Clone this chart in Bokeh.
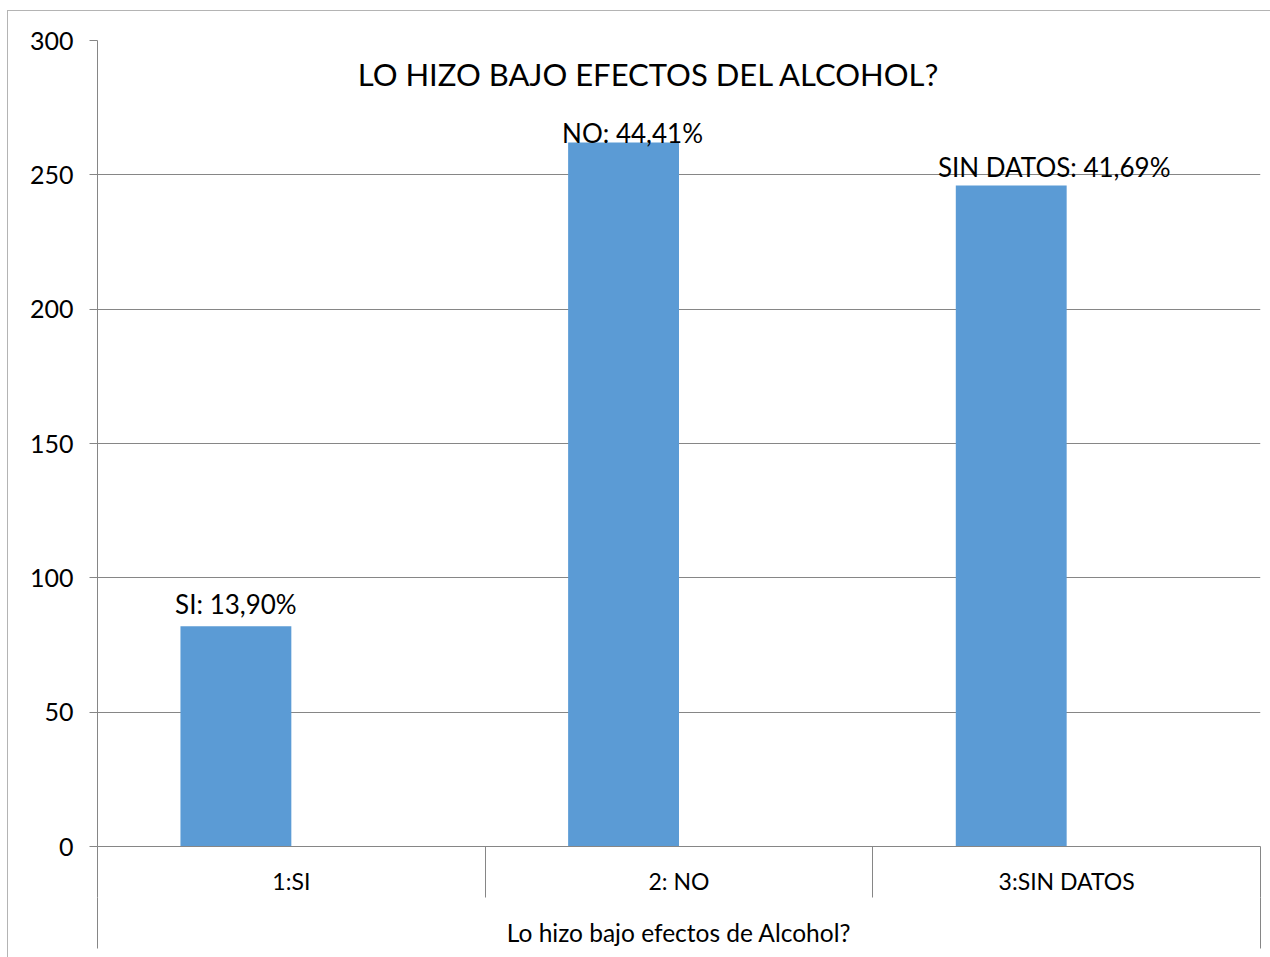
from bokeh.plotting import figure
from bokeh.models import (ColumnDataSource, FixedTicker, LinearAxis, Label, LabelSet,
                          Range1d, Grid)
from bokeh.core.properties import value
from bokeh.transform import dodge
from bokeh.embed import file_html
from bokeh.resources import INLINE

# ---- data ----
categories = ["1:SI", "2: NO", "3:SIN DATOS"]
counts = [82, 262, 246]
second_series = [0, 0, 0]
label_names = ["SI", "NO", "SIN DATOS"]
percent_labels = ["13,90%", "44,41%", "41,69%"]
y_ticks = [0, 50, 100, 150, 200, 250, 300]
title_text = "LO HIZO BAJO EFECTOS DEL ALCOHOL?"
x_title = "Lo hizo bajo efectos de Alcohol?"

# ---- style ----
FONT = "Lato"
BLUE = "#5B9BD5"
ORANGE = "#ED7D31"
GRID = "#868686"
BORDER = "#b4b4b4"
label_dx = [0, 9, 43]
label_dy = [12, 0, 9]

W, H = 1270, 957
n = len(categories)
centers = [i + 0.5 for i in range(n)]

src = ColumnDataSource(dict(
    x=centers, counts=counts, second=second_series,
    lbl=[f"{a}: {b}" for a, b in zip(label_names, percent_labels)],
    dx=label_dx, dy=label_dy,
))

p = figure(width=W, height=H, x_range=Range1d(0, n), y_range=Range1d(0, 300),
           output_backend="svg", toolbar_location=None,
           x_axis_location=None, y_axis_location=None,
           min_border_left=97, min_border_right=10, min_border_top=40,
           min_border_bottom=111)
p.outline_line_color = None
p.background_fill_color = "white"
p.border_fill_color = None
p.center = [r for r in p.center if not isinstance(r, Grid)]
p.styles = {
    "background-color": "white",
    "background-image": f"linear-gradient({BORDER},{BORDER}), linear-gradient({BORDER},{BORDER})",
    "background-size": "1px 100%, 100% 1px",
    "background-position": "7px 10px, 7px 10px",
    "background-repeat": "no-repeat",
}

y_ticker = FixedTicker(ticks=y_ticks, minor_ticks=[])
p.add_layout(Grid(dimension=1, ticker=y_ticker, grid_line_color=GRID, grid_line_width=1))

yax = LinearAxis(ticker=y_ticker)
yax.axis_line_color = GRID
yax.major_tick_line_color = GRID
yax.major_tick_out = 8
yax.major_tick_in = 0
yax.minor_tick_line_color = None
yax.major_label_standoff = 16
yax.major_label_text_font = FONT
yax.major_label_text_font_size = "25px"
yax.major_label_text_color = "black"
p.add_layout(yax, "left")

bw = 0.286
p.vbar(x=dodge("x", -bw / 2), top="counts", width=bw, source=src,
       fill_color=BLUE, line_color=None)
p.vbar(x=dodge("x", bw / 2), top="second", bottom=0, width=bw, source=src,
       fill_color=ORANGE, line_color=ORANGE, line_width=1)

# category axis
xax = LinearAxis(ticker=FixedTicker(ticks=centers, minor_ticks=list(range(n + 1))))
xax.major_label_overrides = {c: lab for c, lab in zip(centers, categories)}
xax.axis_line_color = GRID
xax.major_tick_line_color = None
xax.major_tick_out = 0
xax.major_tick_in = 0
xax.minor_tick_line_color = GRID
xax.minor_tick_out = 51
xax.minor_tick_in = 0
xax.major_label_standoff = -31
xax.major_label_text_font = FONT
xax.major_label_text_font_size = "23px"
xax.major_label_text_color = "black"
p.add_layout(xax, "below")

# axis title row
xax2 = LinearAxis(ticker=FixedTicker(ticks=[], minor_ticks=[0, n]))
xax2.axis_line_color = None
xax2.major_tick_line_color = None
xax2.minor_tick_line_color = GRID
xax2.minor_tick_out = 51
xax2.minor_tick_in = 0
xax2.major_label_text_font_size = "0px"
xax2.axis_label = x_title
xax2.axis_label_standoff = -31
xax2.axis_label_text_font = FONT
xax2.axis_label_text_font_style = "normal"
xax2.axis_label_text_font_size = "24.5px"
xax2.axis_label_text_color = "black"
p.add_layout(xax2, "below")

labels = LabelSet(x=dodge("x", -bw / 2), y="counts", text="lbl", source=src,
                  x_offset="dx", y_offset="dy", text_align="center",
                  text_baseline="alphabetic", text_font=value(FONT),
                  text_font_size="26px", text_color="black")
p.add_layout(labels)

p.add_layout(Label(x=n / 2, y=287.5, text=title_text, text_align="center",
                   text_baseline="alphabetic", x_offset=-30, text_font=FONT,
                   text_font_size="31px", text_color="black"))

open("out.html", "w").write(file_html(p, INLINE))
